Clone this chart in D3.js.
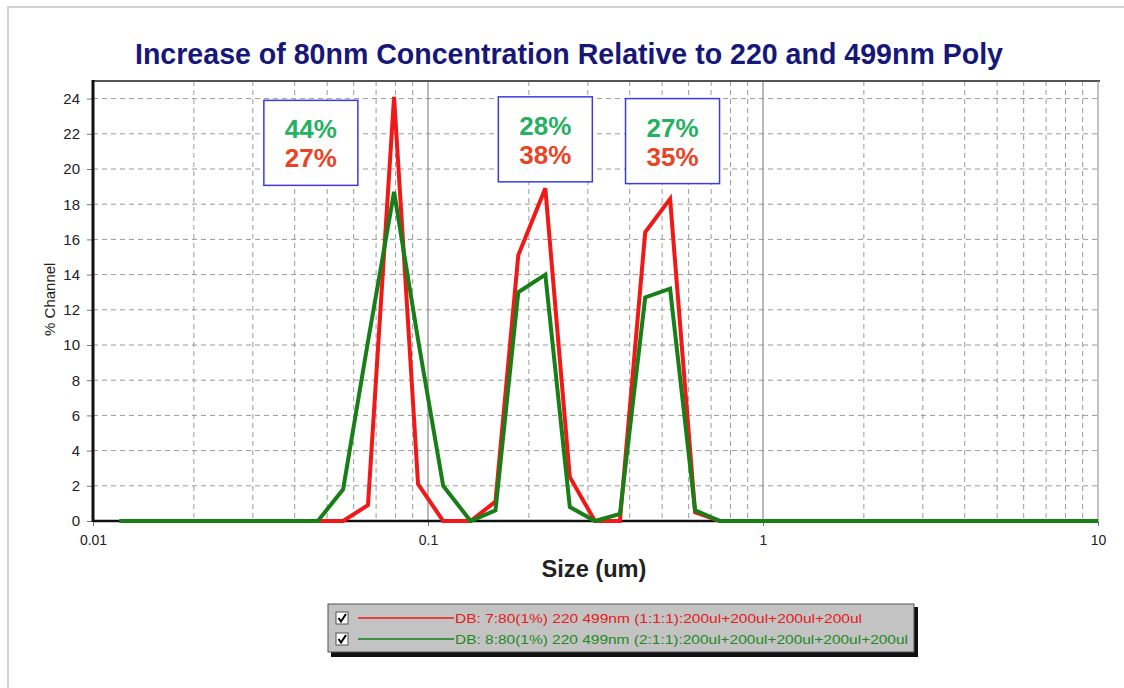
<!DOCTYPE html>
<html>
<head>
<meta charset="utf-8">
<script src="https://cdn.jsdelivr.net/npm/d3@7"></script>
<style>
  body { margin: 0; background: #fff; }
  svg { display: block; }
</style>
</head>
<body>
<script>
// Size bins (um), with the two flat end points
var sizes = [0.012, 0.0469, 0.0558, 0.0662, 0.0792, 0.0934, 0.111, 0.134, 0.159, 0.186,
             0.224, 0.265, 0.315, 0.374, 0.445, 0.528, 0.627, 0.744, 10];
// % Channel for each run
var redValues   = [0, 0, 0, 0.9, 24.1, 2.1, 0, 0, 1.1, 15.1, 18.9, 2.5, 0, 0, 16.4, 18.3, 0.5, 0, 0];
var greenValues = [0, 0, 1.8, 10.2, 18.7, 10.3, 2.0, 0, 0.6, 13.0, 14.0, 0.8, 0, 0.4, 12.7, 13.2, 0.6, 0, 0];

var yTicks = [0, 2, 4, 6, 8, 10, 12, 14, 16, 18, 20, 22, 24];
var xTicks = [0.01, 0.1, 1, 10];
var xTickLabels = ["0.01", "0.1", "1", "10"];

// percentage boxes: centre size, top value, green text, red text
var boxSizes = [0.0447, 0.224, 0.537];
var boxTops = [23.9, 24.1, 24.0];
var boxGreen = ["44%", "28%", "27%"];
var boxRed = ["27%", "38%", "35%"];

var legendNames = [
  "DB: 7:80(1%) 220 499nm (1:1:1):200ul+200ul+200ul+200ul",
  "DB: 8:80(1%) 220 499nm (2:1:1):200ul+200ul+200ul+200ul+200ul"
];

var W = 1124, H = 688;
var red = "#f21818", green = "#187f18";

var svg = d3.select("body").append("svg")
  .attr("width", W)
  .attr("height", H);

// outer frame
svg.append("rect")
  .attr("x", 8).attr("y", 7)
  .attr("width", W).attr("height", H)
  .attr("fill", "#fff")
  .attr("stroke", "#c4c4c4")
  .attr("stroke-width", 1.5);

var x = d3.scaleLog().domain([0.01, 10]).range([93, 1098]);
var y = d3.scaleLinear().domain([0, 25]).range([521, 81]);

// title (condensed bold face, squeezed to the original width)
svg.append("text")
  .attr("x", 569).attr("y", 64)
  .attr("text-anchor", "middle")
  .attr("textLength", 868)
  .attr("lengthAdjust", "spacingAndGlyphs")
  .style("font-family", "'Liberation Sans Narrow', 'Arial Narrow', Arial, sans-serif")
  .style("font-weight", "bold")
  .style("font-size", "30px")
  .attr("fill", "#17177a")
  .text("Increase of 80nm Concentration Relative to 220 and 499nm Poly");

// grid
var grid = svg.append("g");
grid.selectAll(".hgrid")
  .data(yTicks.filter(function (d) { return d > 0; }))
  .enter().append("line")
  .attr("x1", x(0.01)).attr("x2", x(10))
  .attr("y1", function (d) { return y(d); })
  .attr("y2", function (d) { return y(d); })
  .attr("stroke", "#9a9a9a")
  .attr("stroke-dasharray", "5,4");

var minor = x.ticks().filter(function (d) {
  return xTicks.indexOf(d) < 0;
});
grid.selectAll(".vgrid")
  .data(minor)
  .enter().append("line")
  .attr("x1", function (d) { return x(d); })
  .attr("x2", function (d) { return x(d); })
  .attr("y1", y.range()[1]).attr("y2", y.range()[0])
  .attr("stroke", "#9a9a9a")
  .attr("stroke-dasharray", "5,4");

grid.selectAll(".major")
  .data([0.1, 1])
  .enter().append("line")
  .attr("x1", function (d) { return x(d); })
  .attr("x2", function (d) { return x(d); })
  .attr("y1", y.range()[1]).attr("y2", y.range()[0])
  .attr("stroke", "#8a8a8a")
  .attr("stroke-width", 1.2);

// top and right border
svg.append("line")
  .attr("x1", x(0.01)).attr("x2", x(10) + 2)
  .attr("y1", y(25)).attr("y2", y(25))
  .attr("stroke", "#555").attr("stroke-width", 2);
svg.append("line")
  .attr("x1", x(10)).attr("x2", x(10))
  .attr("y1", y(25)).attr("y2", y(0))
  .attr("stroke", "#888").attr("stroke-width", 1);

// axes
var yAxis = svg.append("g")
  .attr("transform", "translate(" + x(0.01) + ",0)")
  .call(d3.axisLeft(y).tickValues(yTicks).tickSize(6).tickPadding(7));
yAxis.select(".domain").remove();
yAxis.selectAll("line").attr("stroke", "#777");
yAxis.selectAll("text")
  .style("font-family", "Arial, 'Liberation Sans', sans-serif")
  .style("font-size", "15px")
  .attr("fill", "#222");

var xAxis = svg.append("g")
  .attr("transform", "translate(0," + y(0) + ")")
  .call(d3.axisBottom(x).tickValues(xTicks).tickSize(5).tickPadding(9)
    .tickFormat(function (d, i) { return xTickLabels[i]; }));
xAxis.select(".domain").remove();
xAxis.selectAll("line").attr("stroke", "#777");
xAxis.selectAll("text")
  .style("font-family", "Arial, 'Liberation Sans', sans-serif")
  .style("font-size", "14px")
  .attr("fill", "#222");

svg.append("line")
  .attr("x1", x(0.01)).attr("x2", x(10))
  .attr("y1", y(0)).attr("y2", y(0))
  .attr("stroke", "#111").attr("stroke-width", 2.5);
svg.append("line")
  .attr("x1", x(0.01)).attr("x2", x(0.01))
  .attr("y1", y(25) - 1).attr("y2", y(0) + 1)
  .attr("stroke", "#111").attr("stroke-width", 3);

// axis titles
svg.append("text")
  .attr("transform", "translate(55," + y(12.6) + ") rotate(-90)")
  .attr("text-anchor", "middle")
  .style("font-family", "Arial, 'Liberation Sans', sans-serif")
  .style("font-size", "15px")
  .attr("fill", "#222")
  .text("% Channel");

svg.append("text")
  .attr("x", 594).attr("y", 577)
  .attr("text-anchor", "middle")
  .attr("textLength", 105)
  .attr("lengthAdjust", "spacingAndGlyphs")
  .style("font-family", "'Liberation Sans Narrow', 'Arial Narrow', Arial, sans-serif")
  .style("font-weight", "bold")
  .style("font-size", "24px")
  .attr("fill", "#222")
  .text("Size (um)");

// series
var line = d3.line()
  .x(function (d) { return x(d[0]); })
  .y(function (d) { return y(d[1]); });

[[redValues, red], [greenValues, green]].forEach(function (s) {
  svg.append("path")
    .datum(d3.zip(sizes, s[0]))
    .attr("d", line)
    .attr("fill", "none")
    .attr("stroke", s[1])
    .attr("stroke-width", 4)
    .attr("stroke-linejoin", "miter");
});

// percentage boxes
var boxes = svg.selectAll(".pbox")
  .data(boxSizes)
  .enter().append("g")
  .attr("transform", function (d, i) {
    return "translate(" + x(d) + "," + y(boxTops[i]) + ")";
  });
boxes.append("rect")
  .attr("x", -47).attr("y", 0)
  .attr("width", 94).attr("height", 85)
  .attr("fill", "#fff")
  .attr("stroke", "#3b3bde")
  .attr("stroke-width", 1.5);
boxes.append("text")
  .attr("y", 38)
  .attr("text-anchor", "middle")
  .style("font-family", "Arial, 'Liberation Sans', sans-serif")
  .style("font-weight", "bold")
  .style("font-size", "26px")
  .attr("fill", "#26b061")
  .text(function (d, i) { return boxGreen[i]; });
boxes.append("text")
  .attr("y", 67)
  .attr("text-anchor", "middle")
  .style("font-family", "Arial, 'Liberation Sans', sans-serif")
  .style("font-weight", "bold")
  .style("font-size", "26px")
  .attr("fill", "#ea4426")
  .text(function (d, i) { return boxRed[i]; });

// legend
var lg = svg.append("g").attr("transform", "translate(328,604)");
lg.append("rect")
  .attr("x", 3).attr("y", 3)
  .attr("width", 587).attr("height", 50)
  .attr("fill", "#111");
lg.append("rect")
  .attr("x", 0).attr("y", 0)
  .attr("width", 586).attr("height", 48)
  .attr("fill", "#c3c3c3")
  .attr("stroke", "#555")
  .attr("stroke-width", 1);

var rows = lg.selectAll(".row")
  .data(legendNames)
  .enter().append("g")
  .attr("transform", function (d, i) { return "translate(0," + (14 + i * 21) + ")"; });
rows.append("rect")
  .attr("x", 8).attr("y", -6)
  .attr("width", 12).attr("height", 12)
  .attr("fill", "#fff")
  .attr("stroke", "#555");
rows.append("path")
  .attr("d", "M10.5,0 L13,3.5 L18,-4")
  .attr("fill", "none")
  .attr("stroke", "#000")
  .attr("stroke-width", 2);
rows.append("line")
  .attr("x1", 30).attr("x2", 126)
  .attr("stroke", function (d, i) { return i === 0 ? red : green; })
  .attr("stroke-width", 1.5);
rows.append("text")
  .attr("x", 127).attr("y", 5)
  .attr("textLength", function (d, i) { return i === 0 ? 407 : 453; })
  .attr("lengthAdjust", "spacingAndGlyphs")
  .style("font-family", "Arial, 'Liberation Sans', sans-serif")
  .style("font-size", "13px")
  .attr("fill", function (d, i) { return i === 0 ? "#e42020" : "#1f8a1f"; })
  .text(function (d) { return d; });
</script>
</body>
</html>
